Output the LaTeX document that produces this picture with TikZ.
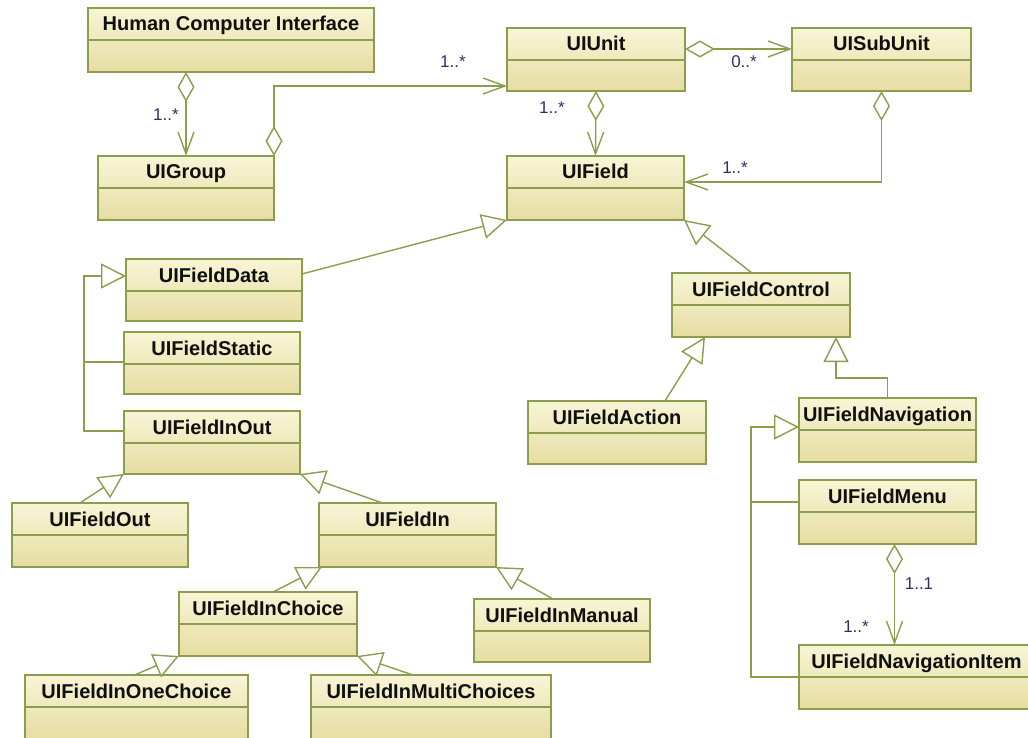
\documentclass[tikz,border=0pt]{standalone}
\usepackage{fontspec}
\setmainfont{Liberation Sans}
\usetikzlibrary{arrows.meta}

\definecolor{edgecol}{HTML}{8C9D4E}
\definecolor{boxtop}{HTML}{F8F5D6}
\definecolor{boxbot}{HTML}{E6DDA2}
\definecolor{multcol}{HTML}{2E2E66}
\definecolor{titlecol}{HTML}{101010}

\tikzset{
  classbox/.style={draw=edgecol, line width=1.4pt, top color=boxtop, bottom color=boxbot,
                   inner sep=0pt, outer sep=0pt},
  classedge/.style={draw=edgecol, line width=1.3pt},
  classtitle/.style={font=\bfseries\fontsize{20}{21}\selectfont, text=titlecol, inner sep=0pt,
                     anchor=base},
  conn/.style={draw=edgecol, line width=1.4pt},
  gen/.style={conn, -{Triangle[open, length=25pt, width=25pt, fill=white]}},
  aggr/.style={conn, {Diamond[open, length=30pt, width=17pt, fill=white]}-{Straight Barb[length=22pt, width=16pt]}},
  mult/.style={font=\fontsize{17}{18}\selectfont, text=multcol, inner sep=0pt},
}

% UML class: name, left, top, right, bottom, title (header band 32pt high)
\newcommand\umlclass[6]{%
  \node[classbox, minimum width={(#4-#2)*1pt}, minimum height={(#5-#3)*1pt},
        anchor=north west] (#1) at (#2,#3) {};
  \draw[classedge] ([yshift=-32pt]#1.north west) -- ([yshift=-32pt]#1.north east);
  \node[classtitle] (#1-title) at ([yshift=-23pt]#1.north) {#6};
}

\begin{document}
\begin{tikzpicture}[x=1pt, y=-1pt]
\useasboundingbox (0,0) rectangle (1028,738);
\clip (0,0) rectangle (1028,738);

% classes
\umlclass{hci}{88}{8}{374}{72}{Human Computer Interface}
\umlclass{grp}{98}{156}{274}{220}{UIGroup}
\umlclass{unit}{507}{28}{685}{91}{UIUnit}
\umlclass{sub}{792}{28}{971}{91}{UISubUnit}
\umlclass{field}{507}{156}{684}{220}{UIField}
\umlclass{fdata}{126}{259}{302}{321}{UIFieldData}
\umlclass{fstatic}{124}{332}{300}{394}{UIFieldStatic}
\umlclass{finout}{124}{411}{300}{474}{UIFieldInOut}
\umlclass{ctrl}{672}{273}{850}{337}{UIFieldControl}
\umlclass{action}{528}{401}{706}{464}{UIFieldAction}
\umlclass{nav}{799}{398}{976}{462}{UIFieldNavigation}
\umlclass{menu}{799}{480}{976}{544}{UIFieldMenu}
\umlclass{navitem}{799}{645}{1034}{709}{UIFieldNavigationItem}
\umlclass{fout}{12}{503}{188}{567}{UIFieldOut}
\umlclass{fin}{319}{503}{496}{567}{UIFieldIn}
\umlclass{choice}{179}{592}{357}{656}{UIFieldInChoice}
\umlclass{manual}{474}{599}{650}{662}{UIFieldInManual}
\umlclass{one}{25}{675}{248}{739}{UIFieldInOneChoice}
\umlclass{multi}{311}{675}{551}{739}{UIFieldInMultiChoices}

% aggregations
\draw[aggr] (grp.north |- hci.south) -- (grp.north);
\draw[aggr] (grp.north east) |- ([yshift=5pt]unit.south west);
\draw[aggr] ([yshift=-21pt]unit.north east) -- ([yshift=-21pt]sub.north west);
\draw[aggr] (unit.south) -- (field.north);
\draw[aggr] (sub.south) |- ([yshift=-26pt]field.north east);
\draw[aggr] ([xshift=7pt]menu.south) -- ([xshift=7pt]menu.south |- navitem.north);

% generalizations
\draw[gen] ([yshift=-15pt]fdata.north east) -- (field.south west);
\draw[gen] ([xshift=-9pt]ctrl.north) -- (field.south east);

\coordinate (dataBus) at ([xshift=-42pt, yshift=-17pt]fdata.north west);
\draw[gen] ([yshift=-20pt]finout.north west) -| (dataBus) -- ([yshift=-17pt]fdata.north west);
\draw[conn] ([yshift=-30pt]fstatic.north west) -- ++(-40pt,0);

\draw[gen] ([xshift=-20pt]fout.north) -- (finout.south west);
\draw[gen] ([xshift=-25pt]fin.north) -- (finout.south east);
\draw[gen] ([xshift=5pt]choice.north) -- ([xshift=3pt]fin.south west);
\draw[gen] ([xshift=-9pt]manual.north) -- (fin.south east);
\draw[gen] ([xshift=-2pt]one.north) -- (choice.south west);
\draw[gen] ([xshift=-18pt]multi.north) -- (choice.south east);

\draw[gen] ([xshift=48pt]action.north) -- ([xshift=33pt]ctrl.south west);
\draw[gen] (nav.north) -- ++(0,20pt) -| ([xshift=164pt]ctrl.south west);

\coordinate (navBus) at ([xshift=-48pt, yshift=-29pt]nav.north west);
\draw[gen] ([yshift=-32pt]navitem.north west) -| (navBus) -- ([yshift=-29pt]nav.north west);
\draw[conn] ([yshift=-22pt]menu.north west) -- ++(-48pt,0);

% multiplicities
\node[mult] (m1) at (166,115) {1..*};
\node[mult] (m2) at (453,62) {1..*};
\node[mult] (m3) at (744,62) {0..*};
\node[mult] (m4) at (552,108) {1..*};
\node[mult] (m5) at (735,168) {1..*};
\node[mult] (m6) at (919,584) {1..1};
\node[mult] (m7) at (856,627) {1..*};
\end{tikzpicture}
\end{document}
